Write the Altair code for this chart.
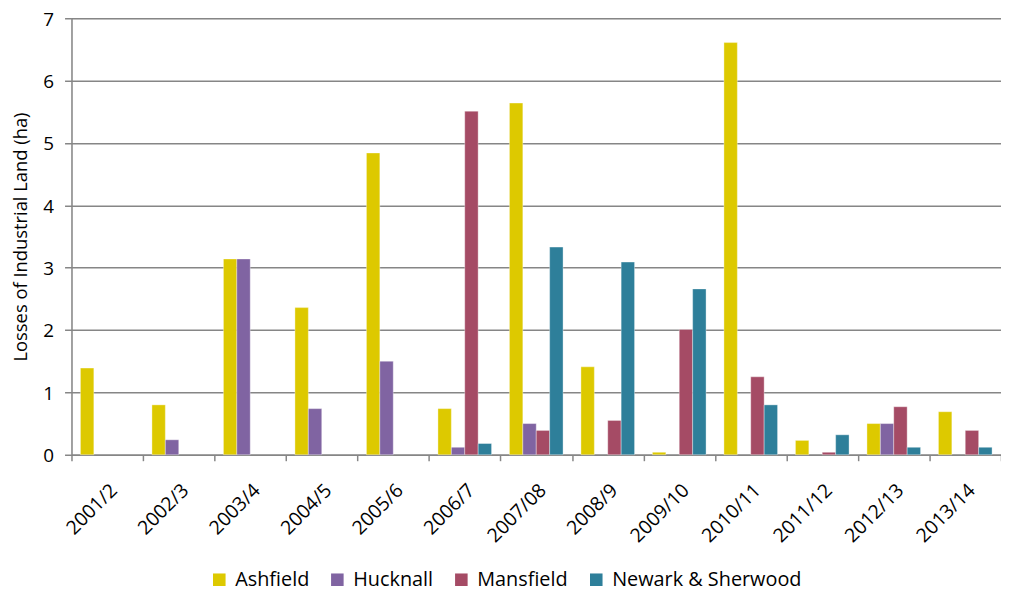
import altair as alt
import pandas as pd

years = ["2001/2", "2002/3", "2003/4", "2004/5", "2005/6", "2006/7", "2007/08",
         "2008/9", "2009/10", "2010/11", "2011/12", "2012/13", "2013/14"]
series = ["Ashfield", "Hucknall", "Mansfield", "Newark & Sherwood"]
colors = ["#DDC900", "#8064A2", "#A54B65", "#2E7F9A"]

ashfield = [1.39, 0.80, 3.14, 2.36, 4.84, 0.74, 5.64, 1.41, 0.04, 6.61, 0.23, 0.50, 0.69]
hucknall = [None, 0.24, 3.14, 0.74, 1.50, 0.12, 0.50, None, None, None, None, 0.50, None]
mansfield = [None, None, None, None, None, 5.51, 0.39, 0.55, 2.01, 1.25, 0.04, 0.77, 0.39]
newark = [None, None, None, None, None, 0.18, 3.33, 3.09, 2.66, 0.80, 0.32, 0.12, 0.12]

rows = []
for name, vals in zip(series, [ashfield, hucknall, mansfield, newark]):
    for y, v in zip(years, vals):
        if v is not None:
            rows.append({"Year": y, "Council": name, "Value": v})
df = pd.DataFrame(rows)

FONT = "Open Sans"
GRID = "#868686"

chart = alt.Chart(df).mark_bar(stroke="white", strokeWidth=0.6, strokeOpacity=0.6).encode(
    x=alt.X("Year:N", sort=years, title=None,
            scale=alt.Scale(paddingInner=0, paddingOuter=0),
            axis=alt.Axis(labelAngle=-45, tickBand="extent", grid=False,
                          domainColor=GRID, domainWidth=1.5,
                          tickColor=GRID, tickWidth=1.5, tickSize=6,
                          labelFontSize=19.5, labelPadding=20, labelColor="#000")),
    xOffset=alt.XOffset("Council:N", sort=series,
                        scale=alt.Scale(paddingInner=0, paddingOuter=0.667)),
    y=alt.Y("Value:Q", title="Losses of Industrial Land (ha)",
            scale=alt.Scale(domain=[0, 7]),
            axis=alt.Axis(values=[0, 1, 2, 3, 4, 5, 6, 7], grid=True,
                          gridColor=GRID, gridWidth=1.5,
                          domainColor=GRID, domainWidth=1.5,
                          tickColor=GRID, tickWidth=1.5, tickSize=7,
                          labelFontSize=19, labelPadding=11, labelColor="#000",
                          labelOffset=1,
                          titleFontSize=18.5, titleFontWeight="normal", titleColor="#000",
                          titlePadding=12)),
    color=alt.Color("Council:N", sort=series,
                    scale=alt.Scale(domain=series, range=colors),
                    legend=alt.Legend(title=None, orient="none", direction="horizontal",
                                      legendX=139, legendY=556,
                                      symbolType="square",
                                      symbolSize=160, symbolStrokeWidth=0,
                                      labelFontSize=20, labelColor="#000",
                                      labelOffset=6, labelLimit=400,
                                      columnPadding=18, symbolOffset=0)),
).properties(
    width=937, height=440,
    autosize=alt.AutoSizeParams(type="none"),
    padding={"left": 64, "top": 8, "right": 0, "bottom": 136},
).configure_view(stroke=None).configure(font=FONT)

chart.save("out.html", embed_options={"renderer": "svg", "actions": False})
